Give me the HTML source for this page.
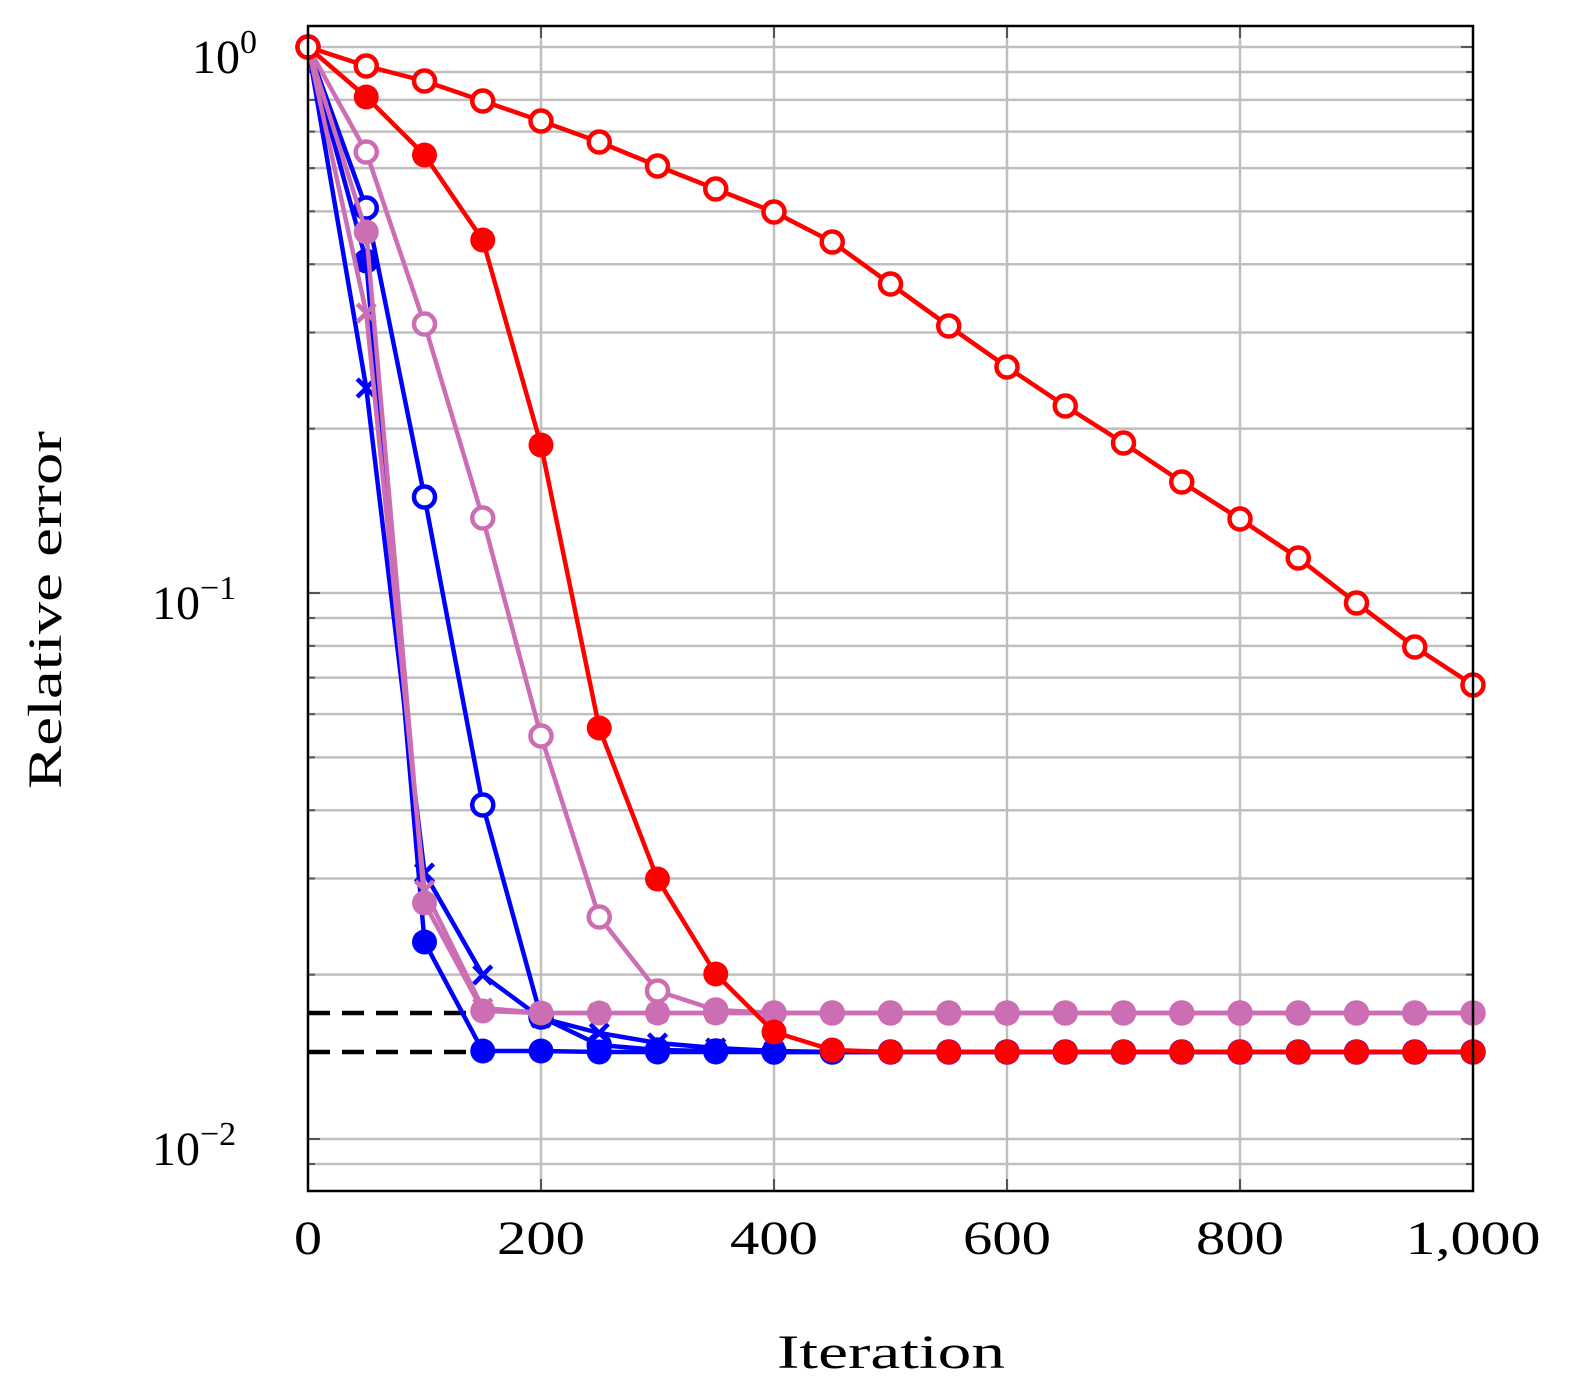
<!DOCTYPE html>
<html><head><meta charset="utf-8"><style>
html,body{margin:0;padding:0;background:#fff;overflow:hidden;width:1575px;height:1399px;}
svg{display:block;}
text{font-family:"Liberation Serif",serif;fill:#000;}
</style></head><body>
<svg id="s" width="1575" height="1399" xmlns="http://www.w3.org/2000/svg">
<g id="grid"></g>
<g id="series"></g>
<rect x="308" y="26" width="1165" height="1165" fill="none" stroke="#000" stroke-width="2.5"/>
<g font-size="48">
<text x="308" y="1254" text-anchor="middle" textLength="28" lengthAdjust="spacingAndGlyphs">0</text>
<text x="541" y="1254" text-anchor="middle" textLength="88" lengthAdjust="spacingAndGlyphs">200</text>
<text x="774" y="1254" text-anchor="middle" textLength="88" lengthAdjust="spacingAndGlyphs">400</text>
<text x="1007" y="1254" text-anchor="middle" textLength="88" lengthAdjust="spacingAndGlyphs">600</text>
<text x="1240" y="1254" text-anchor="middle" textLength="88" lengthAdjust="spacingAndGlyphs">800</text>
<text x="1473" y="1254" text-anchor="middle" textLength="135" lengthAdjust="spacingAndGlyphs">1,000</text>
<text x="192" y="73">10<tspan dy="-20" font-size="34">0</tspan></text>
<text x="152" y="619">10<tspan dy="-20" font-size="34">−1</tspan></text>
<text x="152" y="1165">10<tspan dy="-20" font-size="34">−2</tspan></text>
<text x="891" y="1368" text-anchor="middle" textLength="228" lengthAdjust="spacingAndGlyphs">Iteration</text>
<text transform="translate(61,610) rotate(-90)" text-anchor="middle" textLength="358" lengthAdjust="spacingAndGlyphs">Relative error</text>
</g>
</svg>
<script>
const NS="http://www.w3.org/2000/svg";
function el(p,t,a){const e=document.createElementNS(NS,t);for(const k in a)e.setAttribute(k,a[k]);p.appendChild(e);return e;}
const g=document.getElementById('grid'),S=document.getElementById('series');
const X0=308,X1=1473,Y0=26,Y1=1191;
const yv=v=>47-546*Math.log10(v);
for(let d of [1,0.1,0.01,0.001]){for(let m=1;m<10;m++){const y=yv(d*m);if(y<Y0+1||y>Y1-1)continue;
el(g,'line',{x1:X0,x2:X1,y1:y,y2:y,stroke:'#bfbfbf','stroke-width':2.5});
const L=m==1?12:7;
el(g,'line',{x1:X0,x2:X0+L,y1:y,y2:y,stroke:'#555','stroke-width':2});
el(g,'line',{x1:X1-L,x2:X1,y1:y,y2:y,stroke:'#555','stroke-width':2});}}
for(let i=1;i<5;i++){const x=X0+i*233;el(g,'line',{x1:x,x2:x,y1:Y0,y2:Y1,stroke:'#bfbfbf','stroke-width':2.5});
el(g,'line',{x1:x,x2:x,y1:Y0,y2:Y0+12,stroke:'#555','stroke-width':2});el(g,'line',{x1:x,x2:x,y1:Y1-12,y2:Y1,stroke:'#555','stroke-width':2});}
el(S,'line',{x1:308,x2:480,y1:1013,y2:1013,stroke:'#000','stroke-width':4.5,'stroke-dasharray':'22,12'});
el(S,'line',{x1:308,x2:480,y1:1052,y2:1052,stroke:'#000','stroke-width':4.5,'stroke-dasharray':'22,12'});
const xp=i=>X0+i*58.25;
function fill(a,v){while(a.length<21)a.push(v);return a;}
const R='#ff0000',B='#0000ff',P='#cc6eb3';
const ser=[
[B,'o',fill([47,208,497,805,1017,1045,1050,1051],1052)],
[B,'x',fill([47,388,873,975,1018,1033,1043,1048,1051],1052)],
[B,'f',fill([47,261,942,1051,1051],1052)],
[P,'x',fill([47,313,890,1008],1013)],
[P,'o',fill([47,152,324,518,736,917,991,1010],1013)],
[P,'f',fill([47,232,903,1011],1013)],
[R,'f',fill([47,97,155,240,445,728,879,974,1032,1050],1052)],
[R,'o',[47,66,81,101,121,142,166,189,212,242,284,326,367,406,443,482,519,558,603,647,685]]];
for(const [c,m,ys] of ser){
el(S,'polyline',{points:ys.map((y,i)=>xp(i)+','+y).join(' '),fill:'none',stroke:c,'stroke-width':4.5,'stroke-linejoin':'round'});
ys.forEach((y,i)=>{const x=xp(i);
if(m=='f')el(S,'circle',{cx:x,cy:y,r:12.5,fill:c});
else if(m=='o')el(S,'circle',{cx:x,cy:y,r:10.5,fill:'#fff',stroke:c,'stroke-width':4.5});
else{el(S,'path',{d:`M${x-9},${y-9}L${x+9},${y+9}M${x-9},${y+9}L${x+9},${y-9}`,stroke:c,'stroke-width':4.5});}});}
</script>
</body></html>
